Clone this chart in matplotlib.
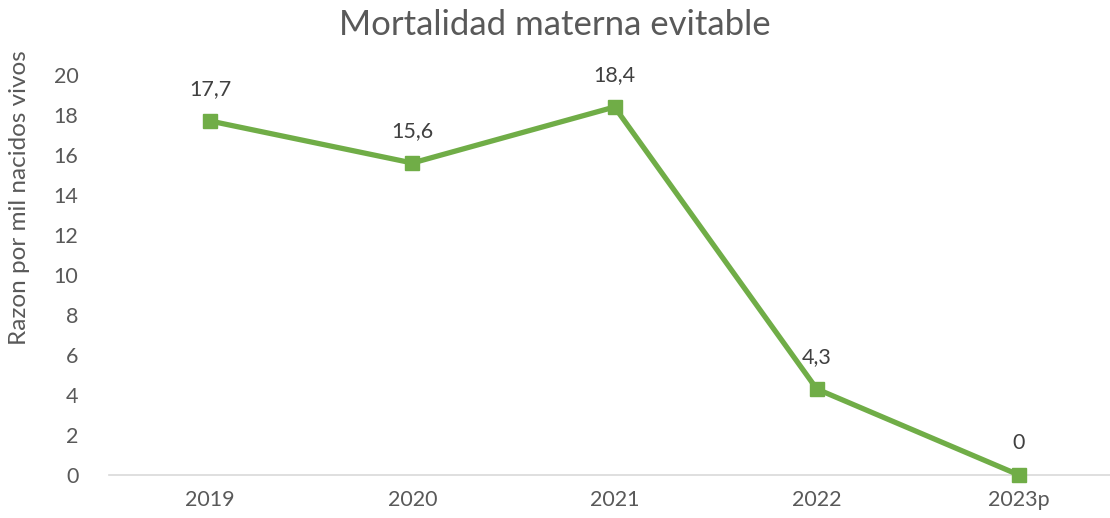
import matplotlib
matplotlib.use("Agg")
import matplotlib.pyplot as plt

categories = ["2019", "2020", "2021", "2022", "2023p"]
values = [17.7, 15.6, 18.4, 4.3, 0]
labels = ["17,7", "15,6", "18,4", "4,3", "0"]
yticks = [0, 2, 4, 6, 8, 10, 12, 14, 16, 18, 20]

plt.rcParams['font.family'] = ['Lato', 'DejaVu Sans']

fig = plt.figure(figsize=(11.1, 5.18), dpi=100)
ax = fig.add_axes([109/1110, 43/518, 1001/1110, 400/518])

green = "#70AD47"
x = list(range(len(categories)))
ax.plot(x, values, color=green, linewidth=3.8, marker="s", markersize=10,
        markeredgecolor=green, markerfacecolor=green, zorder=3, clip_on=False)

for xi, v, lab in zip(x, values, labels):
    ax.annotate(lab, (xi, v), xytext=(0, 23), textcoords="offset points",
                ha="center", va="center", fontsize=15.5, color="#404040")

ax.set_xlim(-0.5, 4.45)
ax.set_ylim(0, 20)
ax.set_yticks(yticks)
ax.set_yticklabels([str(t) for t in yticks])
ax.set_xticks(x)
ax.set_xticklabels(categories)
ax.tick_params(axis="both", length=0, labelsize=15.5, labelcolor="#595959")
ax.tick_params(axis="y", pad=22)
ax.tick_params(axis="x", pad=11)

for s in ["top", "right", "left"]:
    ax.spines[s].set_visible(False)
ax.spines["bottom"].set_color("#D9D9D9")
ax.spines["bottom"].set_linewidth(1.2)

ax.set_ylabel("Razon por mil nacidos vivos", fontsize=17.5, color="#595959")
ax.yaxis.set_label_coords(-79/1001, (475-198)/400)
fig.text(0.5, 1 - 25/518, "Mortalidad materna evitable", ha="center", va="center",
         fontsize=25, color="#595959")

fig.savefig("out.png", dpi=100)
